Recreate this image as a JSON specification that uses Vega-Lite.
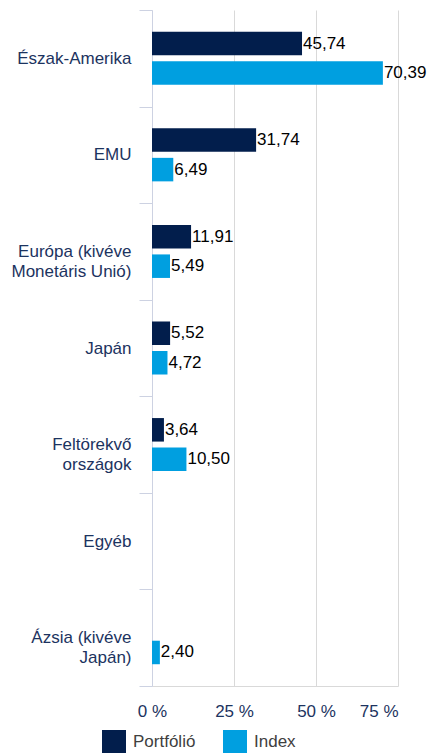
{
  "$schema": "https://vega.github.io/schema/vega-lite/v6.json",
  "width": 246,
  "height": 676,
  "autosize": {"type": "none"},
  "padding": {"left": 152, "top": 10, "right": 30, "bottom": 67},
  "background": "white",
  "config": {
    "locale": {"number": {"decimal": ",", "thousands": " ", "grouping": [3], "currency": ["", ""]}},
    "view": {"stroke": null},
    "font": "Liberation Sans"
  },
  "data": {
    "values": [
      {"region": "Észak-Amerika", "series": "Portfólió", "value": 45.74},
      {"region": "Észak-Amerika", "series": "Index", "value": 70.39},
      {"region": "EMU", "series": "Portfólió", "value": 31.74},
      {"region": "EMU", "series": "Index", "value": 6.49},
      {"region": "Európa (kivéve|Monetáris Unió)", "series": "Portfólió", "value": 11.91},
      {"region": "Európa (kivéve|Monetáris Unió)", "series": "Index", "value": 5.49},
      {"region": "Japán", "series": "Portfólió", "value": 5.52},
      {"region": "Japán", "series": "Index", "value": 4.72},
      {"region": "Feltörekvő|országok", "series": "Portfólió", "value": 3.64},
      {"region": "Feltörekvő|országok", "series": "Index", "value": 10.50},
      {"region": "Ázsia (kivéve|Japán)", "series": "Index", "value": 2.40}
    ]
  },
  "encoding": {
    "y": {
      "field": "region",
      "type": "nominal",
      "sort": null,
      "scale": {
        "domain": ["Észak-Amerika", "EMU", "Európa (kivéve|Monetáris Unió)", "Japán", "Feltörekvő|országok", "Egyéb", "Ázsia (kivéve|Japán)"],
        "paddingInner": 0,
        "paddingOuter": 0
      },
      "axis": {
        "title": null,
        "tickBand": "extent",
        "domainColor": "#cdd2e2",
        "tickColor": "#cdd2e2",
        "tickSize": 13,
        "labelPadding": 8,
        "labelFontSize": 17,
        "labelColor": "#1c3360",
        "labelExpr": "split(datum.label, '|')",
        "labelLineHeight": 20,
        "labelLimit": 200,
        "grid": false
      }
    },
    "yOffset": {
      "field": "series",
      "type": "nominal",
      "scale": {"domain": ["Portfólió", "Index"], "paddingInner": 0.203, "paddingOuter": 0.738}
    },
    "x": {
      "field": "value",
      "type": "quantitative",
      "scale": {"domain": [0, 75], "nice": false},
      "axis": {
        "title": null,
        "values": [0, 25, 50, 75],
        "grid": true,
        "gridColor": "#d9d9d9",
        "domainColor": "#d9d9d9",
        "ticks": false,
        "tickSize": 0,
        "labelExpr": "datum.value + ' %'",
        "labelAlign": {"expr": "datum.value >= 75 ? 'right' : 'center'"},
        "labelFontSize": 17,
        "labelColor": "#1c3360",
        "labelPadding": 17
      }
    }
  },
  "layer": [
    {
      "mark": {"type": "bar"},
      "encoding": {
        "color": {
          "field": "series",
          "type": "nominal",
          "scale": {"domain": ["Portfólió", "Index"], "range": ["#021e4c", "#009fe0"]},
          "legend": {
            "title": null,
            "orient": "none",
            "legendX": -50,
            "legendY": 720,
            "direction": "horizontal",
            "symbolType": "square",
            "symbolSize": 576,
            "symbolStrokeWidth": 0,
            "labelFontSize": 17,
            "labelColor": "#404040",
            "columnPadding": 27,
            "labelOffset": 7
          }
        }
      }
    },
    {
      "mark": {"type": "text", "align": "left", "baseline": "middle", "dx": 1, "fontSize": 17, "color": "#000000"},
      "encoding": {
        "text": {"field": "value", "type": "quantitative", "format": ".2f"}
      }
    }
  ]
}
